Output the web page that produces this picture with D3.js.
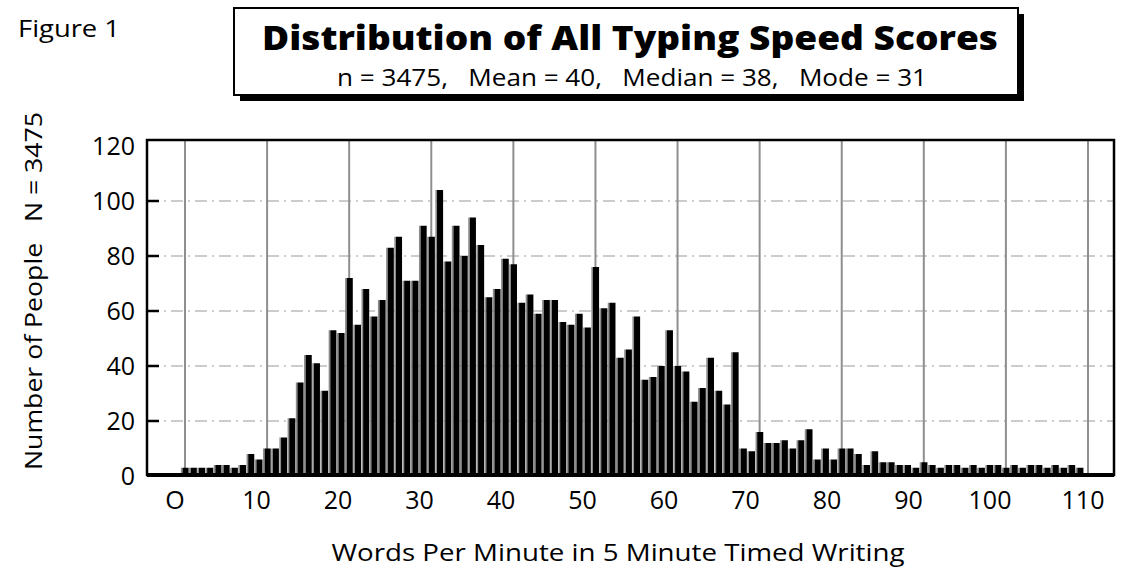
<!DOCTYPE html>
<html>
<head>
<meta charset="utf-8">
<script src="https://cdn.jsdelivr.net/npm/d3@7"></script>
<style>
  body { margin: 0; background: #fff; }
  text { font-family: "Open Sans", sans-serif; fill: #000; }
</style>
</head>
<body>
<div id="chart"></div>
<script>
// number of people at each typing speed, 0 .. 109 words per minute
const counts = [
  3, 3, 3, 3, 4, 4, 3, 4, 8, 6,
  10, 10, 14, 21, 34, 44, 41, 31, 53, 52,
  72, 55, 68, 58, 64, 83, 87, 71, 71, 91,
  87, 104, 78, 91, 80, 94, 84, 65, 68, 79,
  77, 63, 66, 59, 64, 64, 56, 55, 59, 54,
  76, 61, 63, 43, 46, 58, 35, 36, 40, 53,
  40, 38, 27, 32, 43, 31, 26, 45, 10, 9,
  16, 12, 12, 13, 10, 13, 17, 6, 10, 6,
  10, 10, 8, 4, 9, 5, 5, 4, 4, 3,
  5, 4, 3, 4, 4, 3, 4, 3, 4, 4,
  3, 4, 3, 4, 4, 3, 4, 3, 4, 3
];
const speeds = counts.map((d, i) => i);

const xTicks = [0, 10, 20, 30, 40, 50, 60, 70, 80, 90, 100, 110];
const xTickLabels = ["O", "10", "20", "30", "40", "50", "60", "70", "80", "90", "100", "110"];
const yTicks = [0, 20, 40, 60, 80, 100, 120];
const yTickLabels = ["0", "20", "40", "60", "80", "100", "120"];

const titleText = "Distribution of All Typing Speed Scores";
const subtitleText = "n = 3475,   Mean = 40,   Median = 38,   Mode = 31";

const width = 1123, height = 573;
const frame = {left: 147, right: 1114, top: 140, bottom: 475};

const svg = d3.select("#chart")
    .append("svg")
    .attr("width", width)
    .attr("height", height);

// scales
const x = d3.scaleLinear().domain([0, 110]).range([185, 1088]);
const xLab = d3.scaleLinear().domain([0, 100, 110]).range([175, 990, 1083]);
const y = d3.scaleLinear().domain([0, 100]).range([476, 201]);
const band = x(1) - x(0);

// Figure label
svg.append("text")
    .attr("x", 18).attr("y", 37)
    .style("font-size", "24px")
    .attr("textLength", 102)
    .attr("lengthAdjust", "spacingAndGlyphs")
    .text("Figure 1");

// title box with heavy shadow
svg.append("rect")
    .attr("x", 240).attr("y", 14).attr("width", 784).attr("height", 87)
    .attr("fill", "#000");
svg.append("rect")
    .attr("x", 234).attr("y", 8).attr("width", 784).attr("height", 87)
    .attr("fill", "#fff").attr("stroke", "#000").attr("stroke-width", 2);
svg.append("text")
    .attr("x", 630).attr("y", 50)
    .attr("text-anchor", "middle")
    .style("font-size", "34px").style("font-weight", "800")
    .attr("textLength", 736)
    .attr("lengthAdjust", "spacingAndGlyphs")
    .text(titleText);
svg.append("text")
    .attr("x", 632).attr("y", 86)
    .attr("text-anchor", "middle")
    .attr("xml:space", "preserve")
    .style("font-size", "23px")
    .style("white-space", "pre")
    .attr("textLength", 590)
    .attr("lengthAdjust", "spacingAndGlyphs")
    .text(subtitleText);

// horizontal grid (dash-dot)
svg.append("g")
    .selectAll("line")
    .data(yTicks.filter(d => d > 0 && d < 120))
    .join("line")
    .attr("x1", frame.left).attr("x2", frame.right)
    .attr("y1", d => y(d)).attr("y2", d => y(d))
    .attr("stroke", "#999")
    .attr("stroke-width", 1.2)
    .attr("stroke-dasharray", "12,5,2,5");

// vertical grid
svg.append("g")
    .selectAll("line")
    .data(xTicks)
    .join("line")
    .attr("x1", d => x(d)).attr("x2", d => x(d))
    .attr("y1", frame.top).attr("y2", frame.bottom)
    .attr("stroke", "#8f8f8f")
    .attr("stroke-width", 2);

// bars: grey highlight strip + black body
const bars = svg.append("g");
bars.selectAll("rect.hi")
    .data(speeds)
    .join("rect")
    .attr("class", "hi")
    .attr("x", d => x(d) - band * 0.5)
    .attr("y", d => y(counts[d]))
    .attr("width", band * 0.2)
    .attr("height", d => y(0) - y(counts[d]))
    .attr("fill", "#8c8c8c");
bars.selectAll("rect.body")
    .data(speeds)
    .join("rect")
    .attr("class", "body")
    .attr("x", d => x(d) - band * 0.3)
    .attr("y", d => y(counts[d]))
    .attr("width", band * 0.74)
    .attr("height", d => y(0) - y(counts[d]))
    .attr("fill", "#000");

// frame
svg.append("rect")
    .attr("x", frame.left).attr("y", frame.top)
    .attr("width", frame.right - frame.left)
    .attr("height", frame.bottom - frame.top)
    .attr("fill", "none").attr("stroke", "#000").attr("stroke-width", 2.5);
svg.append("line")
    .attr("x1", frame.left).attr("x2", frame.right)
    .attr("y1", frame.bottom).attr("y2", frame.bottom)
    .attr("stroke", "#000").attr("stroke-width", 4);

// inner ticks on the left
svg.append("g")
    .selectAll("line")
    .data(yTicks.filter(d => d > 0 && d < 120))
    .join("line")
    .attr("x1", frame.left).attr("x2", frame.left + 12)
    .attr("y1", d => y(d)).attr("y2", d => y(d))
    .attr("stroke", "#000").attr("stroke-width", 2.5);

// y tick labels
svg.append("g")
    .selectAll("text")
    .data(yTicks)
    .join("text")
    .attr("x", 135)
    .attr("y", d => Math.max(y(d), frame.top) + 9)
    .attr("text-anchor", "end")
    .style("font-size", "25px")
    .text((d, i) => yTickLabels[i]);

// x tick labels
svg.append("g")
    .selectAll("text")
    .data(xTicks)
    .join("text")
    .attr("x", d => xLab(d))
    .attr("y", 509)
    .attr("text-anchor", "middle")
    .style("font-size", "25px")
    .text((d, i) => xTickLabels[i]);

// axis titles
svg.append("text")
    .attr("x", 618).attr("y", 561)
    .attr("text-anchor", "middle")
    .style("font-size", "24px")
    .attr("textLength", 573)
    .attr("lengthAdjust", "spacingAndGlyphs")
    .text("Words Per Minute in 5 Minute Timed Writing");

svg.append("text")
    .attr("transform", "translate(42, 291) rotate(-90)")
    .attr("text-anchor", "middle")
    .attr("xml:space", "preserve")
    .style("font-size", "24px")
    .style("white-space", "pre")
    .attr("textLength", 358)
    .attr("lengthAdjust", "spacingAndGlyphs")
    .text("Number of People   N = 3475");
</script>
</body>
</html>
